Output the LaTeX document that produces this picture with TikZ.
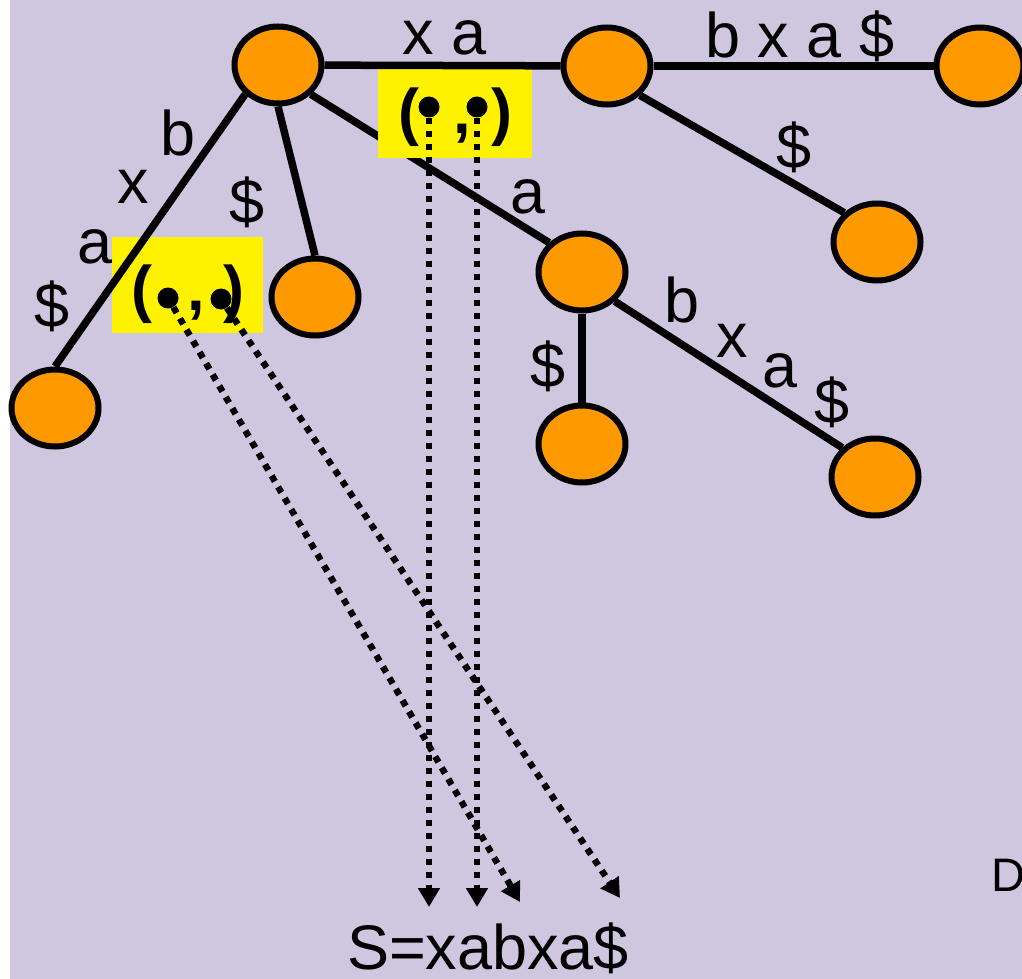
\documentclass[tikz,border=0pt]{standalone}
\usepackage{fontspec}
\setmainfont{Liberation Sans}
\usetikzlibrary{arrows.meta,shapes.geometric}

\definecolor{lavender}{RGB}{207,199,224}
\definecolor{leaf}{RGB}{255,153,0}

\begin{document}
\begin{tikzpicture}[x=1pt, y=-1pt,
    vert/.style={ellipse, draw, line width=6pt, fill=leaf, minimum width=87pt, minimum height=77pt, inner sep=0pt},
    edge/.style={line width=7.5pt},
    lbl/.style={anchor=base, inner sep=0pt, font=\fontsize{63}{70}\selectfont},
    paren/.style={anchor=base, inner sep=0pt, font=\fontsize{63}{70}\selectfont\bfseries},
    pair/.style={fill=yellow, inner sep=0pt, minimum height=96pt},
    dot/.style={circle, fill, minimum size=21pt, inner sep=0pt},
    ptr/.style={line width=6.5pt, dash pattern=on 6.5pt off 6.5pt, -{Triangle[length=19pt, width=21pt]}}]
        \useasboundingbox (0,0) rectangle (1022,979);
        \clip (0,0) rectangle (1022,979);
        \fill[lavender] (10,0) rectangle (1022,979);

        \node[vert] (v0) at (278,65) {};
        \node[vert] (v1) at (607,66) {};
        \node[vert] (v2) at (980,66) {};
        \node[vert] (v3) at (877,242) {};
        \node[vert] (v4) at (582,272) {};
        \node[vert] (v5) at (582,444) {};
        \node[vert] (v6) at (875,477) {};
        \node[vert] (v7) at (315,297) {};
        \node[vert] (v8) at (55,408) {};

        \draw[edge] (v0.south east) to (v4.north west);

        \node[pair, minimum width=154pt] (p1) at (455,110) {};
        \node[pair, minimum width=151pt] (p2) at (187.5,285) {};

        \draw[edge] (v0) to (v1);
        \draw[edge] (v1) to (v2);
        \draw[edge] (v1.south east) to (v3.north west);
        \draw[edge] (v0.south) to (v7.north);
        \draw[edge] (v0.south west) to (v8.north);
        \draw[edge] (v4) to (v5);
        \draw[edge] (v4.south east) to (v6.north west);

        % edge labels
        \node[lbl] (l1) at (445,55) {x a};
        \node[lbl] (l2) at (800,58) {b x a \$};
        \node[lbl] (l3) at (794,168) {\$};
        \node[lbl] (l4) at (528,213) {a};
        \node[lbl] (l5) at (247,223) {\$};
        \node[lbl] (l6) at (178,155) {b};
        \node[lbl] (l7) at (133,203) {x};
        \node[lbl] (l8) at (95,263) {a};
        \node[lbl] (l9) at (52,327) {\$};
        \node[lbl] (l10) at (548,387) {\$};
        \node[lbl] (l11) at (682,322) {b};
        \node[lbl] (l12) at (732,357) {x};
        \node[lbl] (l13) at (780,387) {a};
        \node[lbl] (l14) at (832,423) {\$};

        % index pairs
        \node[paren] (o1) at (409,134) {(};
        \node[paren] (k1) at (462,134) {,};
        \node[paren] (c1) at (502,134) {)};
        \node[dot] (d1) at (429,107) {};
        \node[dot] (d2) at (477,107) {};

        \node[paren] (o2) at (142,310) {(};
        \node[paren] (k2) at (196,310) {,};
        \node[paren] (c2) at (234,310) {)};
        \node[dot] (d3) at (168,298) {};
        \node[dot] (d4) at (221,299) {};

        \coordinate (t1) at (429,907);
        \coordinate (t2) at (477,907);
        \coordinate (t3) at (520,902);
        \coordinate (t4) at (620,898);

        \draw[ptr] (d1) to (t1);
        \draw[ptr] (d2) to (t2);
        \draw[ptr] (d3) to (t3);
        \draw[ptr] (d4) to (t4);

        \node[lbl] (str) at (488,969) {S=xabxa\$};
        \node[anchor=base west, inner sep=0pt, font=\fontsize{47}{52}\selectfont] (cut) at (991,891) {D};
      \end{tikzpicture}
\end{document}
